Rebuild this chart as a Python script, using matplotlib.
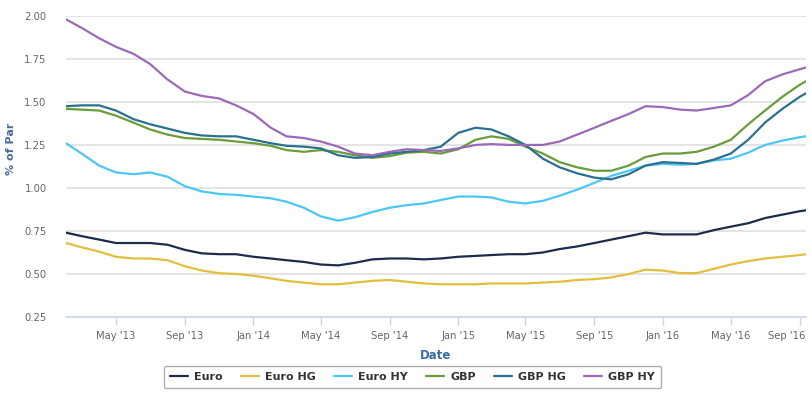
import numpy as np
import pandas as pd
import matplotlib
matplotlib.use("Agg")
import matplotlib.pyplot as plt
import matplotlib.dates as mdates
import matplotlib.transforms as mtransforms

# monthly readings, Feb 2013 .. Sep 2016, plus last point
dates = list(pd.date_range("2013-02-01", "2016-09-01", freq="MS")) + [pd.Timestamp("2016-09-12")]

euro = [0.74, 0.72, 0.70, 0.68, 0.68, 0.68, 0.67, 0.64, 0.62, 0.615, 0.615, 0.60,
        0.59, 0.58, 0.57, 0.555, 0.55, 0.565, 0.585, 0.59, 0.59, 0.585, 0.59,
        0.60, 0.605, 0.61, 0.615, 0.615, 0.625, 0.645, 0.66, 0.68, 0.70, 0.72, 0.74,
        0.73, 0.73, 0.73, 0.755, 0.775, 0.795, 0.825, 0.845, 0.865, 0.87]
euro_hg = [0.68, 0.655, 0.63, 0.60, 0.59, 0.59, 0.58, 0.545, 0.52, 0.505, 0.50, 0.49,
           0.475, 0.46, 0.45, 0.44, 0.44, 0.45, 0.46, 0.465, 0.455, 0.445, 0.44,
           0.44, 0.44, 0.445, 0.445, 0.445, 0.45, 0.455, 0.465, 0.47, 0.48, 0.50, 0.525,
           0.52, 0.505, 0.505, 0.53, 0.555, 0.575, 0.59, 0.60, 0.61, 0.615]
euro_hy = [1.26, 1.20, 1.13, 1.09, 1.08, 1.09, 1.065, 1.01, 0.98, 0.965, 0.96, 0.95,
           0.94, 0.92, 0.885, 0.835, 0.81, 0.83, 0.86, 0.885, 0.90, 0.91, 0.93,
           0.95, 0.95, 0.945, 0.92, 0.91, 0.925, 0.955, 0.99, 1.03, 1.07, 1.10, 1.13,
           1.14, 1.135, 1.14, 1.16, 1.17, 1.205, 1.25, 1.275, 1.295, 1.30]
gbp = [1.46, 1.455, 1.45, 1.42, 1.38, 1.34, 1.31, 1.29, 1.285, 1.28, 1.27, 1.26,
       1.245, 1.22, 1.21, 1.22, 1.21, 1.19, 1.175, 1.185, 1.205, 1.21, 1.20,
       1.225, 1.28, 1.30, 1.285, 1.24, 1.20, 1.15, 1.12, 1.10, 1.10, 1.13, 1.18,
       1.20, 1.20, 1.21, 1.24, 1.28, 1.37, 1.45, 1.53, 1.60, 1.62]
gbp_hg = [1.475, 1.48, 1.48, 1.45, 1.40, 1.37, 1.345, 1.32, 1.305, 1.30, 1.30, 1.28,
          1.26, 1.245, 1.24, 1.23, 1.19, 1.175, 1.18, 1.20, 1.21, 1.22, 1.24,
          1.32, 1.35, 1.34, 1.30, 1.25, 1.17, 1.12, 1.085, 1.06, 1.05, 1.08, 1.13,
          1.15, 1.145, 1.14, 1.165, 1.20, 1.28, 1.38, 1.46, 1.53, 1.55]
gbp_hy = [1.98, 1.93, 1.87, 1.82, 1.78, 1.72, 1.63, 1.56, 1.535, 1.52, 1.48, 1.43,
          1.35, 1.30, 1.29, 1.27, 1.24, 1.20, 1.19, 1.21, 1.225, 1.22, 1.215,
          1.23, 1.25, 1.255, 1.25, 1.25, 1.25, 1.27, 1.31, 1.35, 1.39, 1.43, 1.475,
          1.47, 1.455, 1.45, 1.465, 1.48, 1.54, 1.62, 1.66, 1.69, 1.70]

names = ["Euro", "Euro HG", "Euro HY", "GBP", "GBP HG", "GBP HY"]
colors = ["#1b2d4b", "#e3bf3f", "#4cc6f2", "#6a9c3a", "#2c7090", "#9a6ab8"]
yticks = [0.25, 0.50, 0.75, 1.00, 1.25, 1.50, 1.75, 2.00]

fig = plt.figure(figsize=(8.12, 3.97), dpi=100)
ax = fig.add_axes([0.0813, 0.2015, 0.9113, 0.7585])

for vals, name, c in zip([euro, euro_hg, euro_hy, gbp, gbp_hg, gbp_hy], names, colors):
    ax.plot(dates, vals, color=c, lw=1.6, label=name, solid_capstyle="round")

ax.set_ylim(0.25, 2.0)
ax.set_xlim(dates[0], dates[-1])
ax.set_yticks(yticks)
ax.set_yticklabels(["%.2f" % v for v in yticks])
ax.grid(axis="y", color="#e2e2e2", lw=1.3)
ax.set_axisbelow(True)

ax.xaxis.set_major_locator(mdates.MonthLocator(bymonth=[1, 5, 9]))
ax.xaxis.set_major_formatter(mdates.DateFormatter("%b '%y"))

for s in ["top", "right", "left"]:
    ax.spines[s].set_visible(False)
ax.spines["bottom"].set_color("#ccd6eb")
ax.spines["bottom"].set_linewidth(1.2)
ax.tick_params(axis="x", colors="#ccd6eb", length=6, width=1, labelcolor="#666666",
               labelsize=7.2, pad=4)
ax.tick_params(axis="y", length=0, labelcolor="#666666", labelsize=7.2, pad=14)

# keep last date label inside the figure (right-justified like the original)
fig.canvas.draw()
last = ax.get_xticklabels()[-1]
last.set_horizontalalignment("right")
last.set_transform(last.get_transform() + mtransforms.ScaledTranslation(6 / 100, 0, fig.dpi_scale_trans))

ax.set_ylabel("% of Par", color="#4a6b9a", fontsize=8, fontweight="bold", labelpad=2)
ax.yaxis.set_label_coords(-0.068, 0.56)
ax.set_xlabel("Date", color="#3a6aa8", fontsize=8.5, fontweight="bold", labelpad=6)

leg = fig.legend(loc="center", bbox_to_anchor=(0.508, 0.05), ncol=6, frameon=True,
                 fontsize=8, handlelength=1.6, columnspacing=1.6, handletextpad=0.6,
                 borderpad=0.55, fancybox=True)
leg.get_frame().set_edgecolor("#999999")
leg.get_frame().set_linewidth(1.0)
for t in leg.get_texts():
    t.set_fontweight("bold")
    t.set_color("#333333")

fig.savefig("out.png", dpi=100)
